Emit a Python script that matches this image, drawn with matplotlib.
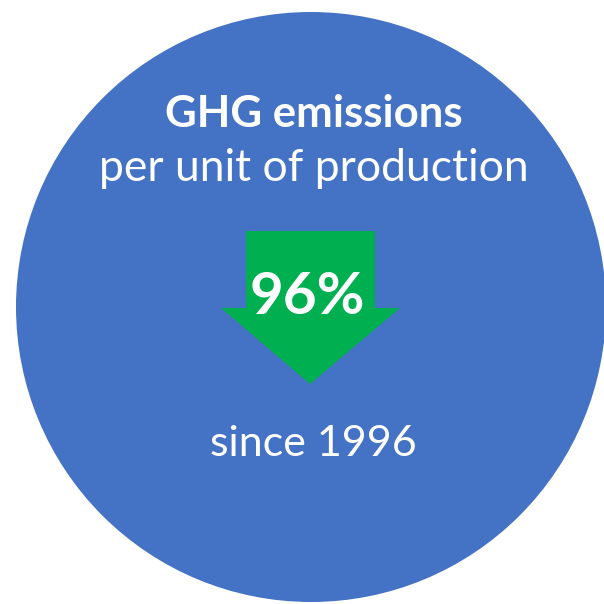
import matplotlib.pyplot as plt
from matplotlib.patches import Circle, Polygon

# infographic content
metric_title = "GHG emissions"
metric_subtitle = "per unit of production"
reduction_pct = 96
since_label = "since 1996"

blue = "#4472C4"
green = "#00B050"

fig = plt.figure(figsize=(6.04, 6.04), dpi=100)
ax = fig.add_axes([0, 0, 1, 1])
ax.set_xlim(0, 604)
ax.set_ylim(604, 0)
ax.set_aspect("equal")
ax.axis("off")

# big blue disc
ax.add_patch(Circle((311, 307), 295, color=blue, lw=0))

# down arrow
arrow = [(246, 231), (375, 231), (375, 308), (400, 308),
         (310, 384), (221, 308), (246, 308)]
ax.add_patch(Polygon(arrow, closed=True, color=green, lw=0))

font = "Lato"
ax.text(314, 127, metric_title, ha="center", va="baseline", color="white",
        fontsize=31.5, fontweight="bold", family=font)
ax.text(314, 181, metric_subtitle, ha="center", va="baseline", color="white",
        fontsize=32, family=font)
ax.text(307, 314, f"{reduction_pct}%", ha="center", va="baseline", color="white",
        fontsize=42, fontweight="bold", family=font)
ax.text(313, 456, since_label, ha="center", va="baseline", color="white",
        fontsize=31, family=font)

fig.savefig("out.png", dpi=100)
